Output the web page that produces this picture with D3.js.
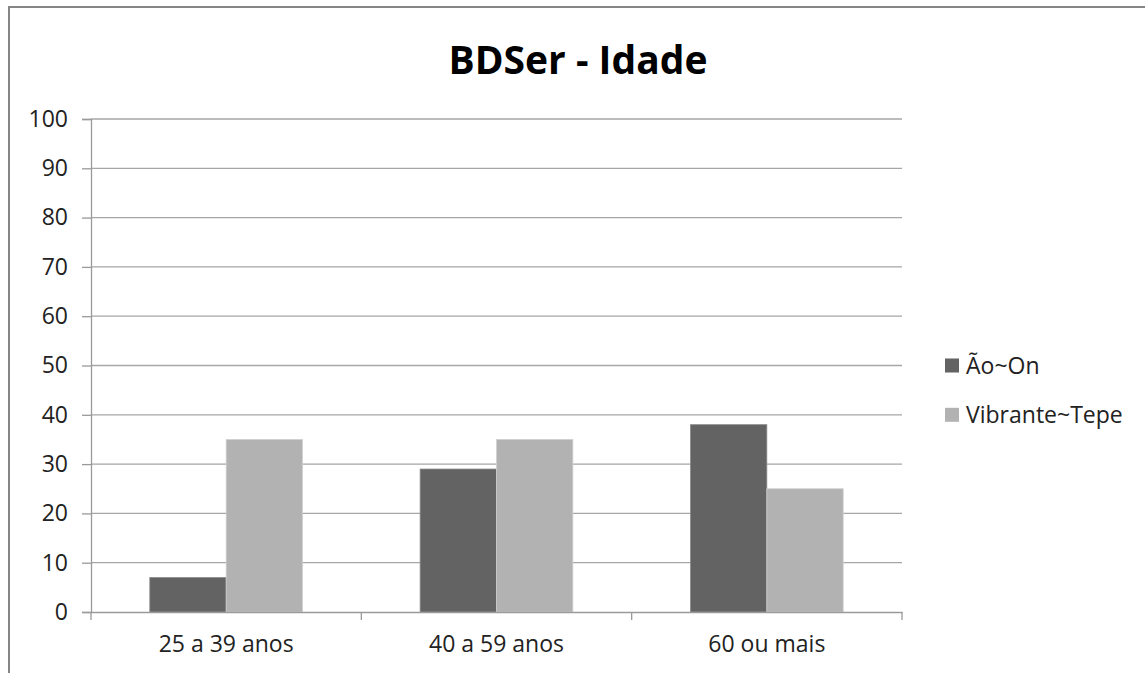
<!DOCTYPE html>
<html>
<head>
<meta charset="utf-8">
<script src="https://cdn.jsdelivr.net/npm/d3@7"></script>
<style>
  body { margin: 0; background: #fff; }
  svg { display: block; font-family: "Open Sans", sans-serif; }
</style>
</head>
<body>
<svg id="chart" width="1145" height="673"></svg>
<script>
const categories = ["25 a 39 anos", "40 a 59 anos", "60 ou mais"];
const seriesNames = ["Ão~On", "Vibrante~Tepe"];
const aoOn = [7, 29, 38];
const vibranteTepe = [35, 35, 25];
const yTicks = [0, 10, 20, 30, 40, 50, 60, 70, 80, 90, 100];
const colors = ["#636363", "#b2b2b2"];
const strokes = ["#8a8a8a", "#d0d0d0"];

let svg = d3.select("#chart"),
  margin = { top: 119, left: 91, right: 243, bottom: 61 },
  width = 1145 - margin.left - margin.right,
  height = 673 - margin.top - margin.bottom;

// chart frame (cut off on right and bottom like the original)
svg.append("rect")
  .attr("x", 9).attr("y", 7)
  .attr("width", 1160).attr("height", 700)
  .attr("fill", "none").attr("stroke", "#868686").attr("stroke-width", 2);

svg.append("text")
  .attr("x", 578).attr("y", 74)
  .attr("text-anchor", "middle")
  .attr("font-size", "39px").attr("font-weight", "bold").attr("fill", "#000")
  .text("BDSer - Idade");

let g = svg.append("g").attr("transform", "translate(" + margin.left + "," + margin.top + ")");

let x0 = d3.scaleBand().domain(categories).range([0, width]).padding(0);
let x1 = d3.scaleBand().domain(seriesNames).range([0, x0.bandwidth()]).paddingInner(0).paddingOuter(0.77);
let y = d3.scaleLinear().domain([0, 100]).range([height, 0]);

// gridlines
g.append("g")
  .selectAll("line")
  .data(yTicks.slice(1))
  .enter()
  .append("line")
  .attr("x1", 0).attr("x2", width)
  .attr("y1", (d) => y(d)).attr("y2", (d) => y(d))
  .attr("stroke", "#a6a6a6").attr("stroke-width", 1.3);

// bars
let rows = categories.map((c, i) => ({ cat: c, values: [aoOn[i], vibranteTepe[i]] }));
g.append("g")
  .selectAll("g")
  .data(rows)
  .enter()
  .append("g")
  .attr("transform", (d) => "translate(" + x0(d.cat) + ",0)")
  .selectAll("rect")
  .data((d) => d.values.map((v, i) => ({ key: seriesNames[i], value: v, i: i })))
  .enter()
  .append("rect")
  .attr("x", (d) => x1(d.key))
  .attr("y", (d) => y(d.value))
  .attr("width", x1.bandwidth())
  .attr("height", (d) => height - y(d.value))
  .attr("fill", (d) => colors[d.i])
  .attr("stroke", (d) => strokes[d.i])
  .attr("stroke-width", 0.8);

// y axis
let yAxis = g.append("g")
  .call(d3.axisLeft(y).tickValues(yTicks).tickSize(9).tickPadding(14));
yAxis.select(".domain").attr("stroke", "#9a9a9a").attr("stroke-width", 1.3);
yAxis.selectAll(".tick line").attr("stroke", "#9a9a9a").attr("stroke-width", 1.3);
yAxis.selectAll("text").attr("font-size", "23px").attr("fill", "#222").attr("font-family", "Open Sans");

// x axis
let xAxis = g.append("g")
  .attr("transform", "translate(0," + height + ")")
  .call(d3.axisBottom(x0).tickSize(0).tickPadding(24));
xAxis.select(".domain").attr("stroke", "#9a9a9a").attr("stroke-width", 1.3);
xAxis.selectAll("text").attr("font-size", "23px").attr("fill", "#222").attr("font-family", "Open Sans");
xAxis.selectAll(".sep")
  .data([0].concat(categories.map((c) => x0(c) + x0.bandwidth())))
  .enter()
  .append("line")
  .attr("class", "sep")
  .attr("x1", (d) => d).attr("x2", (d) => d)
  .attr("y1", 0).attr("y2", 8)
  .attr("stroke", "#9a9a9a").attr("stroke-width", 1.3);

// legend
let legend = svg.append("g")
  .selectAll("g")
  .data(seriesNames)
  .enter()
  .append("g")
  .attr("transform", (d, i) => "translate(945," + (y(50 - i * 10) + margin.top) + ")");
legend.append("rect")
  .attr("x", 0).attr("y", -7)
  .attr("width", 14).attr("height", 14)
  .attr("fill", (d, i) => colors[i]);
legend.append("text")
  .attr("x", 21).attr("y", 8)
  .attr("font-size", "23px").attr("fill", "#222")
  .text((d) => d);
</script>
</body>
</html>
